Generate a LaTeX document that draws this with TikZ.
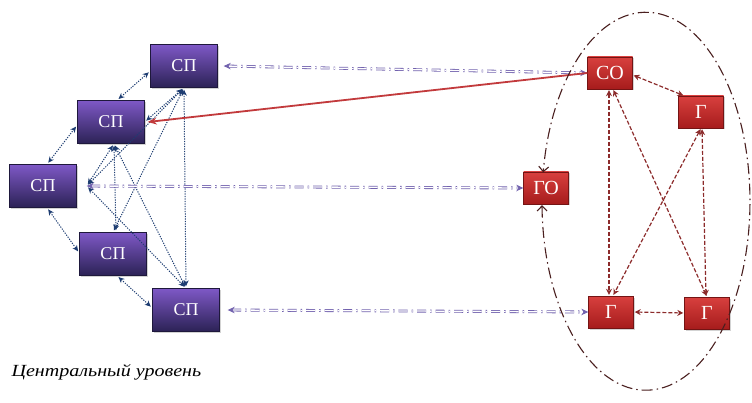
\documentclass[tikz,border=0pt]{standalone}
\usepackage{graphicx}
\usepackage{fontspec}
\setmainfont{Liberation Serif}
\usetikzlibrary{arrows.meta,shadows}
\definecolor{pTop}{HTML}{7E58C6}
\definecolor{pBot}{HTML}{2B2255}
\definecolor{rTop}{HTML}{D8403E}
\definecolor{rBot}{HTML}{A61C1C}
\definecolor{blueline}{HTML}{1E3D72}
\definecolor{lav}{HTML}{7262AE}
\definecolor{redline}{HTML}{8C2B2B}
\definecolor{ellc}{HTML}{4A1F1F}
\definecolor{redarrow}{HTML}{C23A3C}
\begin{document}
\begin{tikzpicture}[x=1pt,y=1pt,
  pbox/.style={draw=pBot!70!black, line width=0.4pt, top color=pTop, bottom color=pBot,
    minimum width=67pt, minimum height=43pt, inner sep=0pt, text=white,
    font=\fontsize{18}{20}\selectfont,
    drop shadow={shadow xshift=1.5pt, shadow yshift=-1.5pt, opacity=0.35}},
  rbox/.style={draw=rBot!70!black, line width=0.4pt, top color=rTop, bottom color=rBot,
    minimum width=45pt, minimum height=32pt, inner sep=0pt, text=white,
    font=\fontsize{20}{22}\selectfont,
    drop shadow={shadow xshift=1.5pt, shadow yshift=-1.5pt, opacity=0.35}},
  bdot/.style={blueline, line width=1pt, dash pattern=on 1.2pt off 1.3pt,
    {Stealth[length=6pt,width=5.5pt]}-{Stealth[length=6pt,width=5.5pt]}, shorten <=2pt, shorten >=2pt},
  lavline/.style={lav, line width=0.8pt, double=white, double distance=1.3pt,
    dash pattern=on 9pt off 4pt on 1.5pt off 4pt,
    {Stealth[length=7pt,width=6.5pt]}-{Stealth[length=7pt,width=6.5pt]}},
  rdash/.style={redline, line width=1.2pt, dash pattern=on 4pt off 2pt,
    {Stealth[length=6pt,width=6pt]}-{Stealth[length=6pt,width=6pt]}, shorten <=1pt, shorten >=1pt},
  ell/.style={ellc, line width=1.1pt, dash pattern=on 11pt off 4pt on 1.5pt off 4pt,
    {Straight Barb[length=5pt,width=10pt]}-{Straight Barb[length=5pt,width=10pt]}},
  redsolid/.style={redarrow, line width=1.8pt, -{Stealth[length=9pt,width=7pt]}}
]
\useasboundingbox (0,0) rectangle (752,402);

% purple boxes
\node[pbox] (P1) at (184,336) {СП};
\node[pbox] (P2) at (111,280) {СП};
\node[pbox] (P3) at (43,216) {СП};
\node[pbox] (P4) at (113,148) {СП};
\node[pbox] (P5) at (186,92) {СП};

% red boxes
\node[rbox] (CO) at (610,329) {СО};
\node[rbox] (G1) at (701,290) {Г};
\node[rbox] (GO) at (546,214) {ГО};
\node[rbox] (G2) at (611,90) {Г};
\node[rbox] (G3) at (707,89) {Г};

% hub coordinates
\coordinate (h3) at ([xshift=10pt]P3.east);

% blue dotted connectors
\draw[bdot] ([xshift=6pt]P2.north) -- ([yshift=-5pt]P1.west);
\draw[bdot] ([xshift=4pt]P3.north) -- ([yshift=-3pt]P2.west);
\draw[bdot] ([xshift=4pt]P3.south) -- ([yshift=1pt]P4.west);
\draw[bdot] ([xshift=4pt]P4.south) -- ([yshift=2pt]P5.west);
\draw[bdot] (P1.south) -- (P2.east);
\draw[bdot] (P1.south) -- (h3);
\draw[bdot] (P1.south) -- (P4.north);
\draw[bdot] (P1.south) -- (P5.north);
\draw[bdot] ([xshift=3pt]P2.south) -- (h3);
\draw[bdot] ([xshift=3pt]P2.south) -- ([xshift=3pt]P4.north);
\draw[bdot] ([xshift=3pt]P2.south) -- (P5.north);
\draw[bdot] (h3) -- (P5.north);

% lavender double dash-dot connectors
\draw[lavline] ([xshift=6pt]P1.east) -- (CO.west);
\draw[lavline] (h3) -- (GO.west);
\draw[lavline] ([xshift=8pt]P5.east) -- (G2.west);

% red solid arrow
\draw[redsolid] (CO.west) -- ([xshift=3pt]P2.east);

% red dashed connectors
\draw[rdash] ([yshift=-2pt]CO.east) -- ([xshift=6pt]G1.north west);
\draw[rdash] ([xshift=-1pt]CO.south) -- ([xshift=-2pt]G2.north);
\draw[rdash] ([xshift=3pt]CO.south) -- (G3.north);
\draw[rdash] (G1.south) -- ([xshift=2pt]G2.north);
\draw[rdash] ([xshift=1pt]G1.south) -- ([xshift=-1pt]G3.north);
\draw[rdash] (G2.east) -- (G3.west);

% dash-dot ellipse around the group, with arrows to GO
\draw[ell] ([xshift=-4pt,yshift=-1pt]GO.south)
  arc[start angle=181.2, end angle=531.2, x radius=104, y radius=189];

% caption
\node[anchor=west, font=\itshape\fontsize{17}{19}\selectfont] (lbl) at (8,30) {\scalebox{1.18}[1]{Центральный уровень}};
\end{tikzpicture}
\end{document}
